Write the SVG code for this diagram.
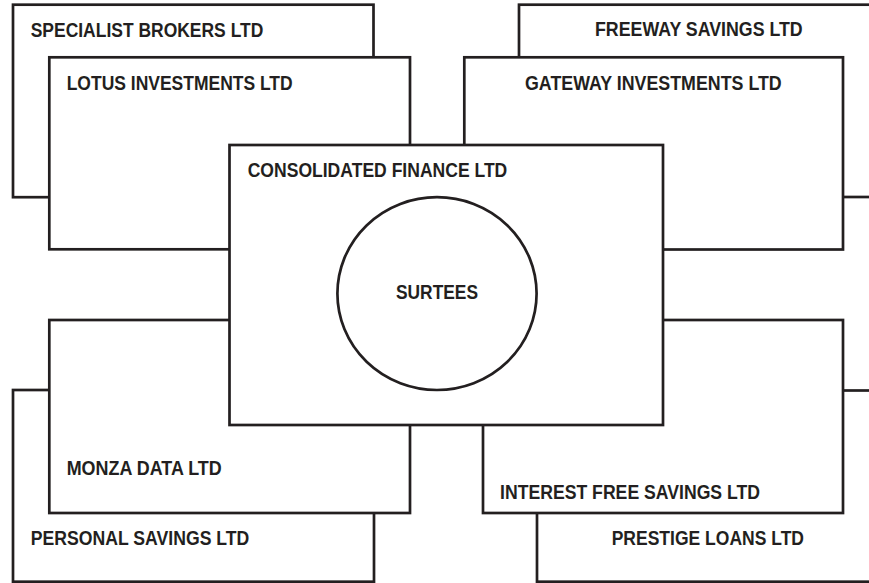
<svg xmlns="http://www.w3.org/2000/svg" width="869" height="583" viewBox="0 0 869 583">
<style>
.box{fill:#fff;stroke:#231f20;stroke-width:2.7}
.lbl{font-family:"Liberation Sans",Arial,sans-serif;font-weight:bold;font-size:19.5px;fill:#231f20}
</style>
<rect width="869" height="583" fill="#fff"/>
<g id="specialist-brokers">
<rect class="box" x="13" y="4.7" width="360.5" height="192.5"/>
<text class="lbl" x="30.7" y="36.5" textLength="232.6" lengthAdjust="spacingAndGlyphs">SPECIALIST BROKERS LTD</text>
</g>
<g id="lotus-investments">
<rect class="box" x="49.3" y="57.3" width="360.7" height="192"/>
<text class="lbl" x="66.7" y="90" textLength="226" lengthAdjust="spacingAndGlyphs">LOTUS INVESTMENTS LTD</text>
</g>
<g id="freeway-savings">
<rect class="box" x="519" y="4.7" width="361" height="192.3"/>
<text class="lbl" x="595" y="36.2" textLength="207.7" lengthAdjust="spacingAndGlyphs">FREEWAY SAVINGS LTD</text>
</g>
<g id="gateway-investments">
<rect class="box" x="464.3" y="57.3" width="378.7" height="192.2"/>
<text class="lbl" x="525" y="90" textLength="256.7" lengthAdjust="spacingAndGlyphs">GATEWAY INVESTMENTS LTD</text>
</g>
<g id="personal-savings">
<rect class="box" x="13" y="390" width="361" height="191.7"/>
<text class="lbl" x="30.7" y="545" textLength="218.6" lengthAdjust="spacingAndGlyphs">PERSONAL SAVINGS LTD</text>
</g>
<g id="monza-data">
<rect class="box" x="49.3" y="320" width="360.7" height="193"/>
<text class="lbl" x="66.7" y="475" textLength="155" lengthAdjust="spacingAndGlyphs">MONZA DATA LTD</text>
</g>
<g id="prestige-loans">
<rect class="box" x="537" y="390.5" width="343" height="191.2"/>
<text class="lbl" x="611.7" y="545" textLength="192.3" lengthAdjust="spacingAndGlyphs">PRESTIGE LOANS LTD</text>
</g>
<g id="interest-free-savings">
<rect class="box" x="483" y="320" width="360" height="193"/>
<text class="lbl" x="500" y="499.3" textLength="260" lengthAdjust="spacingAndGlyphs">INTEREST FREE SAVINGS LTD</text>
</g>
<g id="consolidated-finance">
<rect class="box" x="229.5" y="145" width="433.5" height="280"/>
<text class="lbl" x="247.7" y="176.5" textLength="259.6" lengthAdjust="spacingAndGlyphs">CONSOLIDATED FINANCE LTD</text>
</g>
<g id="surtees">
<ellipse class="box" cx="437" cy="293.6" rx="99.6" ry="96.4"/>
<text class="lbl" x="396" y="299" textLength="82" lengthAdjust="spacingAndGlyphs">SURTEES</text>
</g>
<g id="connectors"></g>
</svg>
